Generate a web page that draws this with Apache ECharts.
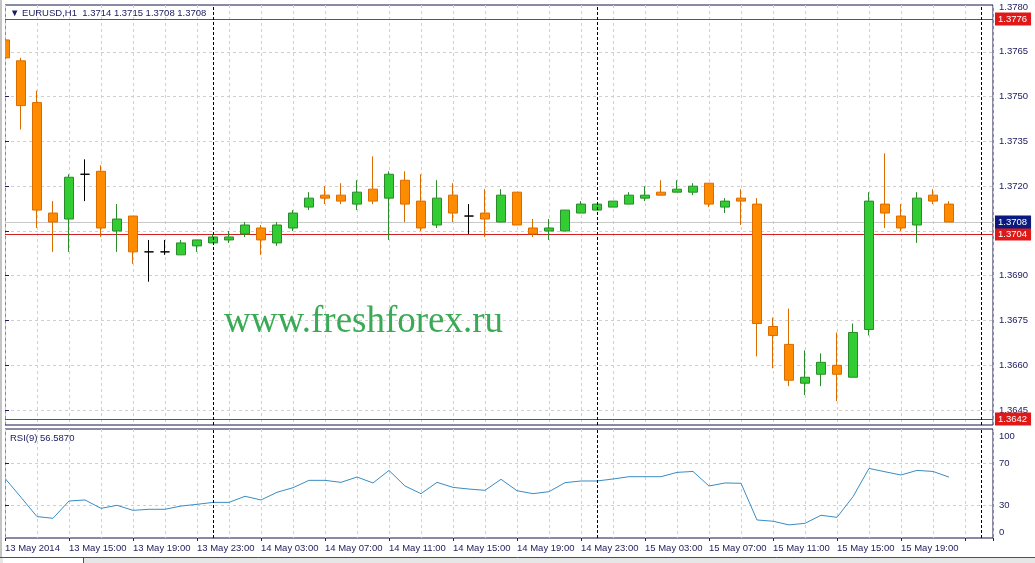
<!DOCTYPE html>
<html>
<head>
<meta charset="utf-8">
<title>EURUSD,H1</title>
<script src="https://cdn.jsdelivr.net/npm/echarts@6/dist/echarts.min.js"></script>
<style>
  html, body { margin: 0; padding: 0; background: #fff; }
  #chart { width: 1035px; height: 563px; }
</style>
</head>
<body>
<div id="chart"></div>
<script>
// EURUSD H1 bars, 13 May 2014 11:00 .. 15 May 2014 22:00 (one entry per hour)
var open  = [1.3769, 1.3762, 1.3748, 1.3711, 1.3709, 1.3724, 1.3725, 1.3705, 1.3710, 1.3698,
             1.3698, 1.3697, 1.3700, 1.3701, 1.3702, 1.3704, 1.3706, 1.3701, 1.3706, 1.3713,
             1.3717, 1.3717, 1.3714, 1.3719, 1.3716, 1.3722, 1.3715, 1.3707, 1.3717, 1.3710,
             1.3711, 1.3708, 1.3718, 1.3706, 1.3705, 1.3705, 1.3711, 1.3712, 1.3713, 1.3714,
             1.3716, 1.3718, 1.3718, 1.3718, 1.3721, 1.3713, 1.3716, 1.3714, 1.3673, 1.3667,
             1.3654, 1.3657, 1.3660, 1.3656, 1.3672, 1.3714, 1.3710, 1.3707, 1.3717, 1.3714];
var high  = [1.3771, 1.3763, 1.3752, 1.3715, 1.3724, 1.3729, 1.3727, 1.3714, 1.3710, 1.3702,
             1.3702, 1.3702, 1.3702, 1.3704, 1.3705, 1.3708, 1.3707, 1.3708, 1.3712, 1.3718,
             1.3720, 1.3721, 1.3722, 1.3730, 1.3725, 1.3725, 1.3724, 1.3722, 1.3721, 1.3714,
             1.3719, 1.3719, 1.3718, 1.3709, 1.3709, 1.3712, 1.3715, 1.3714, 1.3715, 1.3718,
             1.3720, 1.3722, 1.3722, 1.3721, 1.3721, 1.3716, 1.3719, 1.3716, 1.3676, 1.3679,
             1.3665, 1.3664, 1.3671, 1.3674, 1.3718, 1.3731, 1.3714, 1.3718, 1.3719, 1.3715];
var low   = [1.3761, 1.3739, 1.3706, 1.3698, 1.3698, 1.3715, 1.3703, 1.3698, 1.3694, 1.3688,
             1.3697, 1.3697, 1.3698, 1.3701, 1.3701, 1.3703, 1.3697, 1.3700, 1.3705, 1.3712,
             1.3714, 1.3714, 1.3712, 1.3714, 1.3702, 1.3708, 1.3705, 1.3706, 1.3708, 1.3704,
             1.3703, 1.3708, 1.3707, 1.3703, 1.3702, 1.3705, 1.3711, 1.3712, 1.3713, 1.3714,
             1.3715, 1.3717, 1.3718, 1.3717, 1.3713, 1.3711, 1.3707, 1.3663, 1.3659, 1.3653,
             1.3650, 1.3653, 1.3648, 1.3656, 1.3670, 1.3706, 1.3705, 1.3701, 1.3714, 1.3708];
var close = [1.3763, 1.3747, 1.3712, 1.3708, 1.3723, 1.3724, 1.3706, 1.3709, 1.3698, 1.3698,
             1.3698, 1.3701, 1.3702, 1.3703, 1.3703, 1.3707, 1.3702, 1.3707, 1.3711, 1.3716,
             1.3716, 1.3715, 1.3718, 1.3715, 1.3724, 1.3714, 1.3706, 1.3716, 1.3711, 1.3710,
             1.3709, 1.3717, 1.3707, 1.3704, 1.3706, 1.3712, 1.3714, 1.3714, 1.3715, 1.3717,
             1.3717, 1.3717, 1.3719, 1.3720, 1.3714, 1.3715, 1.3715, 1.3674, 1.3670, 1.3655,
             1.3656, 1.3661, 1.3657, 1.3671, 1.3715, 1.3711, 1.3706, 1.3716, 1.3715, 1.3708];
// RSI(9) per bar
var rsi = [55.4, 37.3, 18.9, 17.3, 33.8, 34.8, 26.8, 29.7, 24.9, 25.9,
           25.9, 29.0, 30.6, 32.5, 32.5, 38.3, 34.8, 42.1, 46.5, 53.5,
           53.5, 51.6, 56.7, 51.0, 63.0, 48.1, 40.8, 51.6, 46.8, 45.2,
           44.0, 54.5, 43.6, 40.8, 42.7, 51.3, 52.9, 52.9, 54.8, 57.0,
           57.0, 57.0, 61.1, 62.0, 48.1, 51.0, 50.7, 15.7, 14.5, 11.0,
           12.5, 20.2, 18.2, 37.9, 64.9, 61.7, 58.6, 63.0, 62.0, 56.587];

// time labels, every 4th bar
var timeLabels = ['13 May 2014', '13 May 15:00', '13 May 19:00', '13 May 23:00', '14 May 03:00',
                  '14 May 07:00', '14 May 11:00', '14 May 15:00', '14 May 19:00', '14 May 23:00',
                  '15 May 03:00', '15 May 07:00', '15 May 11:00', '15 May 15:00', '15 May 19:00'];
var daySeparators = [13, 37, 61];   // bar index where a new day starts

var priceGrid   = [1.3645, 1.3660, 1.3675, 1.3690, 1.3705, 1.3720, 1.3735, 1.3750, 1.3765];
var priceLabels = [1.3645, 1.3660, 1.3675, 1.3690, 1.3720, 1.3735, 1.3750, 1.3765, 1.3780];
var rsiGrid   = [30, 70];
var rsiLabels = [0, 30, 70, 100];

var levelPrices = [1.3776, 1.3704, 1.3642];
var bidPrice = 1.3708;

var TXT = '#1b1b5e';
var FONT = 'Liberation Sans';
var GRIDLINE = { show: true, lineStyle: { color: '#cfcfcf', type: [3, 3], width: 1 } };

var candles = open.map(function (o, i) {
  var item = { value: [i, o, close[i], low[i], high[i]] };
  if (o === close[i]) {
    // doji bars are drawn as black crosses
    item.itemStyle = { borderColor: '#000', borderColor0: '#000', borderColorDoji: '#000' };
  }
  return item;
});
var rsiData = rsi.map(function (v, i) { return [i, v]; });
var last = open.length - 1;

var sepLine = {
  silent: true,
  symbol: ['none', 'none'],
  label: { show: false },
  lineStyle: { color: '#000', type: [3, 2], width: 1 },
  data: daySeparators.map(function (v) { return { xAxis: v }; })
};

var levelData = levelPrices.map(function (p) {
  return { yAxis: p, lineStyle: { color: '#d42020' }, label: { backgroundColor: '#e01818' } };
});
levelData.push({ yAxis: bidPrice, lineStyle: { color: '#c8c8c8' }, label: { backgroundColor: '#0b1a7e' } });

var xBase = { type: 'value', min: 0, max: 61.75, interval: 2,
  axisLine: { show: false }, axisTick: { show: false }, axisLabel: { show: false },
  splitLine: GRIDLINE };

var chart = echarts.init(document.getElementById('chart'));
chart.setOption({
  animation: false,
  backgroundColor: '#fff',
  textStyle: { fontFamily: FONT },
  title: [
    { text: '\u25BC EURUSD,H1  ' + open[last].toFixed(4) + ' ' + high[last].toFixed(4) + ' ' +
            low[last].toFixed(4) + ' ' + close[last].toFixed(4),
      left: 10, top: 8, padding: 0,
      textStyle: { fontSize: 9.5, fontWeight: 'normal', color: TXT, fontFamily: FONT } },
    { text: 'RSI(9) ' + rsi[last].toFixed(4),
      left: 10, top: 433, padding: 0,
      textStyle: { fontSize: 9.5, fontWeight: 'normal', color: TXT, fontFamily: FONT } }
  ],
  grid: [
    { left: 5, top: 5, width: 988, height: 420, show: true, borderColor: '#14144a', borderWidth: 1 },
    { left: 5, top: 429, width: 988, height: 109, show: true, borderColor: '#14144a', borderWidth: 1 }
  ],
  xAxis: [
    Object.assign({ gridIndex: 0 }, xBase),
    Object.assign({ gridIndex: 1 }, xBase),
    { gridIndex: 1, type: 'value', min: 0, max: 61.75, interval: 4, position: 'bottom',
      axisLine: { show: false },
      axisTick: { show: true, length: 3, lineStyle: { color: TXT } },
      splitLine: { show: false },
      axisLabel: { show: true, align: 'left', margin: 5, fontSize: 9.5, color: TXT, fontFamily: FONT,
        formatter: function (v) { return v % 4 === 0 && timeLabels[v / 4] ? timeLabels[v / 4] : ''; } } }
  ],
  yAxis: [
    { gridIndex: 0, type: 'value', position: 'right', min: 1.3640, max: 1.37807,
      axisLine: { show: false },
      axisTick: { show: true, length: 4, customValues: priceGrid, lineStyle: { color: TXT } },
      axisLabel: { margin: 6, fontSize: 9.5, color: TXT, fontFamily: FONT, customValues: priceLabels,
        formatter: function (v) { return v.toFixed(4); } },
      splitLine: GRIDLINE },
    { gridIndex: 1, type: 'value', position: 'right', min: -1.5, max: 102.5,
      axisLine: { show: false },
      axisTick: { show: true, length: 4, customValues: rsiGrid, lineStyle: { color: TXT } },
      axisLabel: { margin: 6, fontSize: 9.5, color: TXT, fontFamily: FONT, customValues: rsiLabels,
        formatter: function (v) {
          if (v === 100) return '{hi|100}';
          if (v === 0) return '{lo|0}';
          return String(v);
        },
        rich: {
          hi: { padding: [9, 0, 0, 0], fontSize: 9.5, color: TXT, fontFamily: FONT },
          lo: { padding: [0, 0, 9, 0], fontSize: 9.5, color: TXT, fontFamily: FONT }
        } },
      splitLine: GRIDLINE }
  ],
  series: [
    { name: 'levels', type: 'line', xAxisIndex: 0, yAxisIndex: 0, data: [],
      markLine: {
        z: 1, silent: true, precision: 4, symbol: ['none', 'none'],
        lineStyle: { type: 'solid', width: 1 },
        label: { show: true, position: 'end', distance: 2, color: '#fff', fontSize: 9.5, fontFamily: FONT,
          padding: [2, 4, 1, 3],
          formatter: function (p) { return Number(p.value).toFixed(4); } },
        data: levelData
      } },
    { name: 'EURUSD', type: 'candlestick', xAxisIndex: 0, yAxisIndex: 0,
      encode: { x: 0, y: [1, 2, 3, 4] },
      barWidth: 10, clip: true,
      itemStyle: { color: '#32cd32', color0: '#ff8c00', borderColor: '#2b8a2b', borderColor0: '#d96c00', borderWidth: 1 },
      data: candles,
      markLine: sepLine },
    { name: 'RSI(9)', type: 'line', xAxisIndex: 1, yAxisIndex: 1,
      data: rsiData, showSymbol: false, clip: true,
      lineStyle: { color: '#3a8cc4', width: 1 },
      markLine: sepLine }
  ],
  graphic: [
    { type: 'text', left: 224, top: 304, z: 1,
      style: { text: 'www.freshforex.ru', fontSize: 37, fontFamily: 'Liberation Serif', fill: '#3aaa55' } },
    // window frame left of the chart (also hides the part of the first bar outside the plot)
    { type: 'rect', left: 2, top: 0, z: 100, shape: { width: 3, height: 557 }, style: { fill: '#fff' } },
    { type: 'rect', left: 0, top: 0, z: 100, shape: { width: 2, height: 557 }, style: { fill: '#c4c4c4' } },
    { type: 'rect', left: 0, top: 558, shape: { width: 1035, height: 5 }, style: { fill: '#e6e6e6' } },
    { type: 'rect', left: 3, top: 558, shape: { width: 80, height: 5 }, style: { fill: '#fff' } },
    { type: 'line', shape: { x1: 0, y1: 557.5, x2: 1035, y2: 557.5 }, style: { stroke: '#505050', lineWidth: 1 } },
    { type: 'line', shape: { x1: 83.5, y1: 558, x2: 83.5, y2: 563 }, style: { stroke: '#505050', lineWidth: 1 } }
  ]
});
</script>
</body>
</html>
